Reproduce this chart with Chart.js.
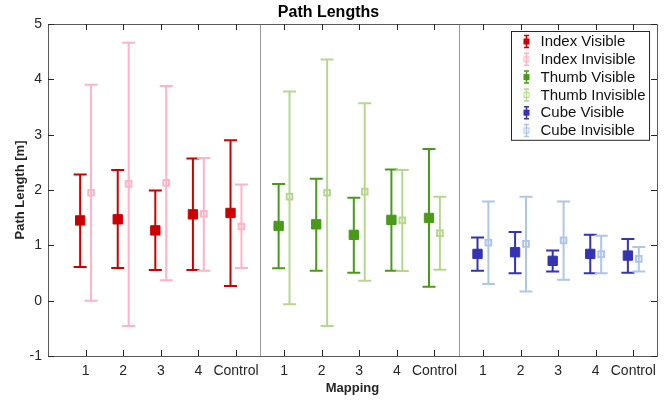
<!DOCTYPE html>
<html>
<head>
<meta charset="utf-8">
<script src="https://cdn.jsdelivr.net/npm/chart.js@4/dist/chart.umd.min.js"></script>
<style>
  html, body { margin: 0; padding: 0; background: #fff; }
  #wrap { width: 671px; height: 403px; }
</style>
</head>
<body>
<div id="wrap"><canvas id="pathChart" width="671" height="403"></canvas></div>
<script>
// Mapping labels / tick positions
const mappings = ["1", "2", "3", "4", "Control"];
const tickLabels = [...mappings, ...mappings, ...mappings];
const tickPos = [1, 2, 3, 4, 5, 6.28, 7.28, 8.28, 9.28, 10.28, 11.57, 12.57, 13.57, 14.57, 15.57];
const separators = [5.63, 10.92];
const yTicks = [-1, 0, 1, 2, 3, 4, 5];

// Index
const indexVisMean = [1.45, 1.47, 1.27, 1.56, 1.585];
const indexVisLow = [0.61, 0.59, 0.555, 0.555, 0.265];
const indexVisHigh = [2.28, 2.36, 1.99, 2.57, 2.9];
const indexInvMean = [1.95, 2.11, 2.13, 1.57, 1.34];
const indexInvLow = [0.0, -0.46, 0.37, 0.54, 0.59];
const indexInvHigh = [3.9, 4.66, 3.88, 2.58, 2.1];
// Thumb
const thumbVisMean = [1.35, 1.38, 1.19, 1.46, 1.495];
const thumbVisLow = [0.585, 0.54, 0.505, 0.54, 0.25];
const thumbVisHigh = [2.11, 2.205, 1.86, 2.37, 2.74];
const thumbInvMean = [1.88, 1.95, 1.97, 1.45, 1.22];
const thumbInvLow = [-0.065, -0.46, 0.36, 0.535, 0.56];
const thumbInvHigh = [3.78, 4.36, 3.57, 2.36, 1.88];
// Cube
const cubeVisMean = [0.845, 0.875, 0.72, 0.845, 0.815];
const cubeVisLow = [0.54, 0.495, 0.525, 0.495, 0.505];
const cubeVisHigh = [1.14, 1.24, 0.905, 1.19, 1.115];
const cubeInvMean = [1.05, 1.025, 1.09, 0.84, 0.755];
const cubeInvLow = [0.3, 0.165, 0.38, 0.495, 0.525];
const cubeInvHigh = [1.79, 1.88, 1.79, 1.175, 0.97];

const OFFSET = 0.145; // visible left, invisible right of tick

function makeSet(label, group, side, mean, low, high, color, filled) {
  return {
    label: label,
    data: mean.map((v, i) => ({ x: tickPos[group * 5 + i] + side * OFFSET, y: v })),
    errLow: low,
    errHigh: high,
    borderColor: color,
    backgroundColor: filled ? color : "rgba(0,0,0,0)",
    pointStyle: "rect",
    pointRadius: filled ? 6.6 : 4,
    pointHoverRadius: filled ? 6.6 : 4,
    pointBorderWidth: filled ? 1 : 2,
    filled: filled,
    showLine: false,
  };
}

const datasets = [
  makeSet("Index Visible", 0, -1, indexVisMean, indexVisLow, indexVisHigh, "#cc0000", true),
  makeSet("Index Invisible", 0, 1, indexInvMean, indexInvLow, indexInvHigh, "#ffb3c6", false),
  makeSet("Thumb Visible", 1, -1, thumbVisMean, thumbVisLow, thumbVisHigh, "#4a9a1a", true),
  makeSet("Thumb Invisible", 1, 1, thumbInvMean, thumbInvLow, thumbInvHigh, "#b8d68f", false),
  makeSet("Cube Visible", 2, -1, cubeVisMean, cubeVisLow, cubeVisHigh, "#3333b3", true),
  makeSet("Cube Invisible", 2, 1, cubeInvMean, cubeInvLow, cubeInvHigh, "#aec6e8", false),
];

// error bars, separators, box, inward ticks, legend
const errorBars = {
  id: "errorBars",
  beforeDatasetsDraw(chart) {
    const { ctx, chartArea } = chart;
    const x = chart.scales.x, y = chart.scales.y;
    ctx.save();
    ctx.strokeStyle = "#9a9a9a";
    ctx.lineWidth = 1;
    separators.forEach((s) => {
      const px = Math.round(x.getPixelForValue(s)) + 0.5;
      ctx.beginPath();
      ctx.moveTo(px, chartArea.top);
      ctx.lineTo(px, chartArea.bottom);
      ctx.stroke();
    });
    chart.data.datasets.forEach((ds, i) => {
      const meta = chart.getDatasetMeta(i);
      ctx.strokeStyle = ds.borderColor;
      ctx.lineWidth = 2;
      meta.data.forEach((pt, j) => {
        const px = pt.x;
        const lo = y.getPixelForValue(ds.errLow[j]);
        const hi = y.getPixelForValue(ds.errHigh[j]);
        ctx.beginPath();
        ctx.moveTo(px, lo);
        ctx.lineTo(px, hi);
        ctx.moveTo(px - 6.5, lo);
        ctx.lineTo(px + 6.5, lo);
        ctx.moveTo(px - 6.5, hi);
        ctx.lineTo(px + 6.5, hi);
        ctx.stroke();
      });
    });
    ctx.restore();
  },
  afterDraw(chart) {
    const { ctx, chartArea } = chart;
    const { left, right, top, bottom } = chartArea;
    const x = chart.scales.x, y = chart.scales.y;
    ctx.save();
    // box top + right
    ctx.strokeStyle = "#5a5a5a";
    ctx.lineWidth = 1;
    ctx.beginPath();
    ctx.moveTo(left, top + 0.5);
    ctx.lineTo(right + 0.5, top + 0.5);
    ctx.lineTo(right + 0.5, bottom);
    ctx.stroke();
    // inward ticks
    ctx.strokeStyle = "#262626";
    ctx.beginPath();
    const tl = 6;
    x.ticks.forEach((t) => {
      const px = Math.round(x.getPixelForValue(t.value)) + 0.5;
      ctx.moveTo(px, bottom);
      ctx.lineTo(px, bottom - tl);
      ctx.moveTo(px, top);
      ctx.lineTo(px, top + tl);
    });
    y.ticks.forEach((t) => {
      const py = Math.round(y.getPixelForValue(t.value)) + 0.5;
      ctx.moveTo(left, py);
      ctx.lineTo(left + tl, py);
      ctx.moveTo(right, py);
      ctx.lineTo(right - tl, py);
    });
    ctx.stroke();

    // legend
    ctx.font = "15px 'Liberation Sans', Arial, sans-serif";
    const names = chart.data.datasets.map((d) => d.label);
    const maxW = Math.max(...names.map((n) => ctx.measureText(n).width));
    const boxW = 29 + maxW + 4;
    const rowH = 17.8;
    const boxH = rowH * names.length + 2;
    const bx = Math.round(right - 8 - boxW) + 0.5;
    const by = top + 7.5;
    ctx.fillStyle = "#fff";
    ctx.fillRect(bx, by, boxW, boxH);
    ctx.strokeStyle = "#262626";
    ctx.lineWidth = 1;
    ctx.strokeRect(bx, by, boxW, boxH);
    chart.data.datasets.forEach((ds, i) => {
      const cy = by + 10 + i * rowH;
      const cx = bx + 15;
      ctx.strokeStyle = ds.borderColor;
      ctx.lineWidth = 1.5;
      ctx.beginPath();
      ctx.moveTo(cx, cy - 6);
      ctx.lineTo(cx, cy + 6);
      ctx.moveTo(cx - 2.5, cy - 6);
      ctx.lineTo(cx + 2.5, cy - 6);
      ctx.moveTo(cx - 2.5, cy + 6);
      ctx.lineTo(cx + 2.5, cy + 6);
      ctx.stroke();
      if (ds.filled) {
        ctx.fillStyle = ds.borderColor;
        ctx.fillRect(cx - 3, cy - 3, 6, 6);
      } else {
        ctx.lineWidth = 1;
        ctx.strokeRect(cx - 2.5, cy - 2.5, 5, 5);
      }
      ctx.fillStyle = "#111";
      ctx.textBaseline = "middle";
      ctx.textAlign = "left";
      ctx.fillText(ds.label, bx + 29, cy + 0.5);
    });
    ctx.restore();
  },
};

Chart.defaults.font.family = "'Liberation Sans', Arial, sans-serif";
Chart.defaults.color = "#262626";

const ctx = document.getElementById("pathChart").getContext("2d");
const pathChart = new Chart(ctx, {
  type: "scatter",
  data: { datasets: datasets },
  options: {
    responsive: false,
    animation: false,
    layout: { padding: { left: 0, right: 14, top: 0, bottom: 0 } },
    plugins: {
      legend: { display: false },
      tooltip: { enabled: false },
      title: {
        display: true,
        text: "Path Lengths",
        color: "#000",
        font: { size: 16, weight: "bold" },
        padding: { top: 3, bottom: 1.8 },
      },
    },
    scales: {
      x: {
        type: "linear",
        min: 0,
        max: 16.2,
        afterBuildTicks: (scale) => {
          scale.ticks = tickPos.map((v) => ({ value: v }));
        },
        afterFit: (scale) => {
          scale.height = 47;
        },
        ticks: {
          autoSkip: false,
          maxRotation: 0,
          minRotation: 0,
          padding: 7,
          color: "#262626",
          font: { size: 14 },
          callback: (value, index) => tickLabels[index],
        },
        grid: { display: false, drawTicks: false },
        border: { display: true, color: "#5a5a5a", width: 1 },
        title: {
          display: true,
          text: "Mapping",
          color: "#262626",
          font: { size: 13, weight: "bold" },
          padding: { top: 0, bottom: 7.2 },
        },
      },
      y: {
        min: -1,
        max: 5,
        afterBuildTicks: (scale) => {
          scale.ticks = yTicks.map((v) => ({ value: v }));
        },
        afterFit: (scale) => {
          scale.width = 48;
        },
        ticks: {
          padding: 6,
          color: "#262626",
          font: { size: 14 },
        },
        grid: { display: false, drawTicks: false },
        border: { display: true, color: "#5a5a5a", width: 1 },
        title: {
          display: true,
          text: "Path Length [m]",
          color: "#262626",
          font: { size: 13, weight: "bold" },
          padding: { top: 12.2, bottom: 0 },
        },
      },
    },
  },
  plugins: [errorBars],
});
</script>
</body>
</html>
